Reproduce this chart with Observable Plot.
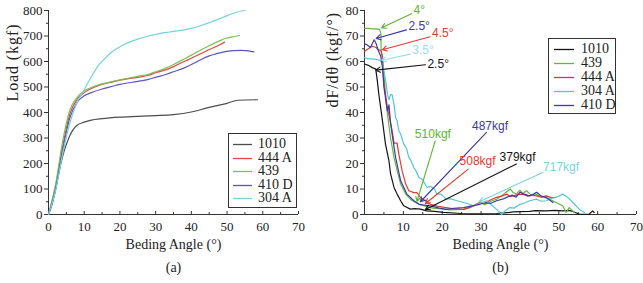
<!DOCTYPE html>
<html>
<head>
<meta charset="utf-8">
<script src="https://cdn.jsdelivr.net/npm/d3@7"></script>
<script src="https://cdn.jsdelivr.net/npm/@observablehq/plot@0.6"></script>
<style>
  body { margin: 0; background: #fff; }
  #wrap { position: relative; width: 643px; height: 283px; overflow: hidden; font-family: "Liberation Serif", "Times New Roman", serif; }
  #wrap svg.panel { position: absolute; top: 0; background: transparent; }
  .legend { position: absolute; border: 1px solid #333; background: #fff; box-sizing: border-box; }
  .legend .row { position: absolute; left: 0; width: 100%; height: 14px; line-height: 14px; font-size: 14px; color: #222; white-space: nowrap; }
  .legend svg { position: absolute; top: 0; }
</style>
</head>
<body>
<div id="wrap"></div>
<script>
// Series names and colours
const seriesColors = { "1010": "#4d4d4d", "444 A": "#e5483f", "439": "#78c254", "410 D": "#5a55c4", "304 A": "#72d3dc" };
const seriesColorsB = { "1010": "#151515", "444 A": "#e5392f", "439": "#62b83c", "410 D": "#3e3aae", "304 A": "#55c6da" };
const legendOrderA = ["1010", "444 A", "439", "410 D", "304 A"];
const legendOrderB = ["1010", "439", "444 A", "304 A", "410 D"];

// (a) Load (kgf) vs bending angle (°)
const load1010 = [[0,0],[1,40],[2,100],[3,170],[4,230],[5,275],[6,310],[7,335],[8,350],[10,362],[12,370],[15,376],[20,382],[25,385],[30,388],[35,392],[40,402],[45,420],[50,436],[53,448],[58.5,450]];
const load444A = [[0,0],[2,110],[4,270],[6,395],[8,452],[10,478],[12,494],[15,510],[18,520],[20,527],[25,538],[28,546],[30,556],[33,568],[35,580],[38,600],[40,613],[43,633],[45,647],[48,666],[49.3,676]];
const load439 = [[0,0],[2,120],[4,290],[6,410],[8,458],[10,485],[12,498],[15,512],[18,522],[20,528],[25,542],[28,550],[30,560],[33,575],[35,588],[38,610],[40,625],[43,648],[45,662],[48,682],[50,692],[52,698],[53.5,702]];
const load410D = [[0,0],[2,100],[4,255],[6,380],[8,440],[10,466],[12,478],[15,492],[18,503],[20,510],[25,522],[28,530],[30,538],[33,550],[35,560],[38,575],[40,588],[43,610],[45,622],[48,634],[50,640],[52,643],[54,644],[56,642],[57.5,638]];
const load304A = [[0,0],[2,95],[4,240],[6,360],[8,440],[10,490],[12,540],[14,585],[16,615],[18,640],[20,658],[22,672],[25,688],[28,700],[30,706],[33,714],[35,718],[38,724],[40,730],[43,742],[45,752],[48,768],[50,780],[52,790],[54,798],[55,800]];

// (b) dF/dθ (kgf/°) vs bending angle (°)
const rate1010 = [[0,59],[1,58.5],[2,57.6],[2.9,57],[3.3,52.4],[3.7,47],[4.6,37],[5.4,27.6],[6.3,21],[6.7,16],[7.6,10.6],[8.4,8],[9.3,5.4],[10.1,3.4],[11.8,2.1],[13,2.3],[14.4,2.1],[16,1.4],[18,1.2],[20.3,0.8],[25,0.4],[30,0.3],[34,0.4],[36,0.6],[38.3,1],[40,1.1],[42.5,1.2],[44,1.5],[46.8,1.4],[49,1.6],[51,1.4],[52.5,1.6],[53.6,1.2],[55.3,0.1],[57.8,0.1],[58.7,1.4],[59.1,0.8]];
const rate439 = [[0,73],[1,73],[2,72.8],[3,72.8],[3.9,72.5],[4.2,71],[4.3,64],[4.6,62],[5,55],[5.5,45],[5.9,39.4],[6.7,30],[7.6,22.4],[8.4,17.2],[9.3,12],[10.6,8],[11.8,6],[13.1,4.7],[14,4],[15,3.6],[16.9,2.7],[18,2.4],[20,2.2],[22,1.8],[25.5,2],[27,2.6],[28.5,3.6],[29.7,4.7],[31,3.8],[32.5,5.2],[34,6],[35.5,7.6],[36.5,8.8],[37.5,10],[38.3,8.6],[39.1,8],[40,9.5],[40.8,8.2],[41.7,9.3],[43,7.5],[44,8.1],[45,7.3],[46.5,6.6],[47.7,6],[49.3,4.7],[51,3.4],[51.9,0.8],[52.7,2.7],[54,0.8]];
const rate444A = [[0,64],[1,65],[2,66],[3,65.5],[3.6,64.5],[4.2,64.5],[4.6,62],[5,51],[5.9,42],[7.1,33],[7.6,28],[8.4,28],[8.8,24],[9.7,17],[10.6,12],[11.4,9.3],[12.7,8.6],[13.5,8.6],[14.4,6.7],[15.7,5.4],[16.9,4],[19,3.2],[21,2.7],[23,2.2],[25.5,2],[27,2.8],[28.5,3.8],[29.7,4.7],[31,4.4],[32.5,5.8],[34,6.7],[35.5,7.3],[36.6,8],[37.5,7],[38.3,7.3],[39.5,7.8],[40.8,8],[42,7.2],[43,7.6],[44.3,7.3],[45.5,6.8],[46.8,7.3],[48,6.6],[49.3,6.7]];
const rate410D = [[0,67],[0.7,66.5],[1.5,65.5],[2.5,68.5],[3,67],[3.5,64.5],[4.2,62],[4.6,58],[5,50],[5.5,44.6],[5.9,40.6],[6.3,43],[6.7,36],[7.1,31.6],[8,22.4],[9.3,13.2],[10.9,8],[12.7,5.4],[14,4.1],[15,3.8],[16.9,3.4],[19,2.6],[21,2],[23,2.4],[25.5,2.7],[27,3.2],[29.7,4],[31,4.6],[32.5,4.4],[34,5.4],[35.5,6],[36.6,6.7],[38,7.6],[39,6.8],[40,8.7],[41,8],[42.5,7.3],[43.5,8],[44.3,8.7],[45.5,7.2],[46.8,6.7],[48.5,4.7]];
const rate304A = [[0,61.5],[1,61],[2,61],[3,60.8],[4,60.5],[4.6,59],[5,56],[5.5,52],[5.9,47.2],[6.3,45],[6.7,47],[7.1,47],[7.6,43],[8,38],[8.4,36.8],[8.8,33],[9.3,31.5],[10.1,27.6],[10.8,26],[11.4,22.4],[12,21],[12.7,18.4],[13.3,17],[14,14.5],[15,13.5],[16.1,10.6],[17,11],[18,10],[18.6,8],[19.5,8],[20,7.6],[21,6],[22,6.2],[23.8,5.4],[25.5,4.7],[27,4],[28,3.4],[29.5,4.2],[31.5,5.4],[32.5,4],[34,2],[35.3,0],[36.2,1.5],[37.4,2.7],[38.5,2.5],[40,4],[41.2,4.5],[42.5,5.4],[44.3,6],[45.5,5.2],[46.8,5.4],[48,6.3],[49.3,6.7],[51,8],[52.5,6.5],[53.6,4.7],[55.3,2],[56.6,0.8]];

// Callouts on (b): arrow from (x1,y1) to the curve at (x2,y2), label placed at (tx,ty)
const calloutsB = [
  { label: "4°",     color: "#5cb533", x1: 12.1, y1: 78.7, x2: 4.4, y2: 73.2, tx: 12.6, ty: 80.3, anchor: "start" },
  { label: "2.5°",   color: "#3c38a8", x1: 10.8, y1: 72.4, x2: 3.0, y2: 69.0, tx: 11.3, ty: 74.0, anchor: "start" },
  { label: "4.5°",   color: "#e53a2e", x1: 16.9, y1: 69.7, x2: 4.6, y2: 64.6, tx: 17.4, ty: 71.0, anchor: "start" },
  { label: "3.5°",   color: "#9edcea", x1: 11.8, y1: 62.9, x2: 4.4, y2: 60.5, tx: 12.3, ty: 64.6, anchor: "start" },
  { label: "2.5°",   color: "#151515", x1: 15.7, y1: 58.7, x2: 2.9, y2: 56.6, tx: 16.2, ty: 59.0, anchor: "start" },
  { label: "510kgf", color: "#5cb533", x1: 18.2, y1: 28.9, x2: 13.5, y2: 5.2, tx: 17.6, ty: 31.6, anchor: "middle" },
  { label: "487kgf", color: "#3c38a8", x1: 31.4, y1: 32.2, x2: 14.4, y2: 5.0, tx: 32.3, ty: 34.8, anchor: "middle" },
  { label: "508kgf", color: "#e53a2e", x1: 26.7, y1: 17.8, x2: 15.7, y2: 4.3, tx: 29.1, ty: 21.0, anchor: "middle" },
  { label: "379kgf", color: "#151515", x1: 39.1, y1: 19.8, x2: 15.7, y2: 2.0, tx: 39.4, ty: 22.4, anchor: "middle" },
  { label: "717kgf", color: "#7fd2e0", x1: 45.9, y1: 16.5, x2: 29.5, y2: 5.0, tx: 50.6, ty: 18.4, anchor: "middle" }
];

const toRows = (name, pts) => pts.map(([x, y]) => ({ name, x, y }));
const loadRows = [
  ...toRows("1010", load1010), ...toRows("444 A", load444A), ...toRows("439", load439),
  ...toRows("410 D", load410D), ...toRows("304 A", load304A)
];
const rateRows = [
  ...toRows("1010", rate1010), ...toRows("439", rate439), ...toRows("444 A", rate444A),
  ...toRows("304 A", rate304A), ...toRows("410 D", rate410D)
];

const wrap = document.getElementById("wrap");
const axisInk = "#333";
const serif = "'Liberation Serif', 'Times New Roman', serif";
const sans = "'Liberation Sans', Arial, sans-serif";

function frameAxes(yMajor, yMinor) {
  return [
    Plot.ruleX([0], { stroke: axisInk, strokeWidth: 1 }),
    Plot.ruleY([0], { stroke: axisInk, strokeWidth: 1 }),
    Plot.axisY(yMajor, { tickSize: 4, tickPadding: 2, label: null, stroke: axisInk, fontSize: 13, fill: "#222" }),
    Plot.axisY(yMinor, { tickSize: 2, tickFormat: () => "", label: null, stroke: axisInk }),
    Plot.axisX(d3.range(0, 71, 10), { tickSize: 3, dy: -3, tickFormat: () => "", label: null, stroke: axisInk }),
    Plot.axisX(d3.range(5, 70, 10), { tickSize: 2, dy: -2, tickFormat: () => "", label: null, stroke: axisInk }),
    Plot.axisX(d3.range(0, 71, 10), { tickSize: 0, tickPadding: 7, label: null, fontSize: 13, fill: "#222" })
  ];
}

function titles(xTitle, yTitle, tag, yTitleDx, yTitleDy) {
  return [
    Plot.text([xTitle], { text: d => d, frameAnchor: "bottom", dy: 34, fontSize: 14, fill: "#222" }),
    Plot.text([tag], { text: d => d, frameAnchor: "bottom", dy: 57, fontSize: 14, fill: "#222" }),
    Plot.text([yTitle], { text: d => d, frameAnchor: "left", rotate: -90, dx: yTitleDx, dy: yTitleDy, fontSize: 16, fill: "#222" })
  ];
}

// Spread the rotated y titles to their drawn length
function spreadTitle(svg, title) {
  for (const t of svg.querySelectorAll("text")) {
    if (t.textContent === title) t.style.letterSpacing = "0.9px";
  }
}

// Panel (a)
const plotA = Plot.plot({
  width: 320, height: 283,
  marginLeft: 48, marginRight: 22, marginTop: 10, marginBottom: 69,
  x: { domain: [0, 70] },
  y: { domain: [0, 800] },
  style: { fontFamily: serif, background: "transparent", overflow: "visible" },
  marks: [
    ...frameAxes(d3.range(0, 801, 100), d3.range(50, 800, 100)),
    Plot.line(loadRows, { x: "x", y: "y", z: "name", stroke: d => seriesColors[d.name], strokeWidth: 1.2, curve: "monotone-x" }),
    ...titles("Beding Angle (°)", "Load (kgf)", "(a)", -36, -11)
  ]
});
plotA.classList.add("panel");
plotA.style.left = "0px";
spreadTitle(plotA, "Load (kgf)");
wrap.appendChild(plotA);

// Panel (b)
const plotB = Plot.plot({
  width: 323, height: 283,
  marginLeft: 44, marginRight: 7, marginTop: 10, marginBottom: 69,
  x: { domain: [0, 70] },
  y: { domain: [0, 80] },
  style: { fontFamily: serif, background: "transparent", overflow: "visible" },
  marks: [
    ...frameAxes(d3.range(0, 81, 10), d3.range(5, 80, 10)),
    Plot.line(rateRows, { x: "x", y: "y", z: "name", stroke: d => seriesColorsB[d.name], strokeWidth: 1.2 }),
    Plot.arrow(calloutsB, { x1: "x1", y1: "y1", x2: "x2", y2: "y2", stroke: "color", strokeWidth: 1.1, headLength: 7, bend: 0 }),
    Plot.text(calloutsB.filter(d => d.anchor === "start"), { x: "tx", y: "ty", text: "label", fill: "color", textAnchor: "start", fontSize: 12, fontFamily: sans }),
    Plot.text(calloutsB.filter(d => d.anchor === "middle"), { x: "tx", y: "ty", text: "label", fill: "color", textAnchor: "middle", fontSize: 12, fontFamily: sans }),
    ...titles("Beding Angle (°)", "dF/dθ (kgf/°)", "(b)", -32, -5)
  ]
});
plotB.classList.add("panel");
plotB.style.left = "320px";
spreadTitle(plotB, "dF/dθ (kgf/°)");
wrap.appendChild(plotB);

// Legends
const svgNS = "http://www.w3.org/2000/svg";
function legend(order, colors, box, rowTops, swX, textX) {
  const el = document.createElement("div");
  el.className = "legend";
  Object.assign(el.style, { left: box.left + "px", top: box.top + "px", width: box.w + "px", height: box.h + "px" });
  order.forEach((name, i) => {
    const row = document.createElement("div");
    row.className = "row";
    row.style.top = rowTops[i] + "px";
    const sw = document.createElementNS(svgNS, "svg");
    sw.setAttribute("width", swX[1] - swX[0]);
    sw.setAttribute("height", 14);
    sw.style.left = swX[0] + "px";
    const ln = document.createElementNS(svgNS, "line");
    ln.setAttribute("x1", 0); ln.setAttribute("x2", swX[1] - swX[0]);
    ln.setAttribute("y1", 7.5); ln.setAttribute("y2", 7.5);
    ln.setAttribute("stroke", colors[name]);
    ln.setAttribute("stroke-width", 1.3);
    sw.appendChild(ln);
    const tx = document.createElement("span");
    tx.textContent = name;
    Object.assign(tx.style, { position: "absolute", left: textX + "px" });
    row.appendChild(sw);
    row.appendChild(tx);
    el.appendChild(row);
  });
  wrap.appendChild(el);
}
legend(legendOrderA, seriesColors, { left: 228, top: 133, w: 69, h: 75 }, [3, 16.5, 30, 43.5, 57], [4, 23], 29);
legend(legendOrderB, seriesColorsB, { left: 548, top: 38, w: 68, h: 76 }, [3, 17, 31, 45, 59], [5, 25], 32);
</script>
</body>
</html>
